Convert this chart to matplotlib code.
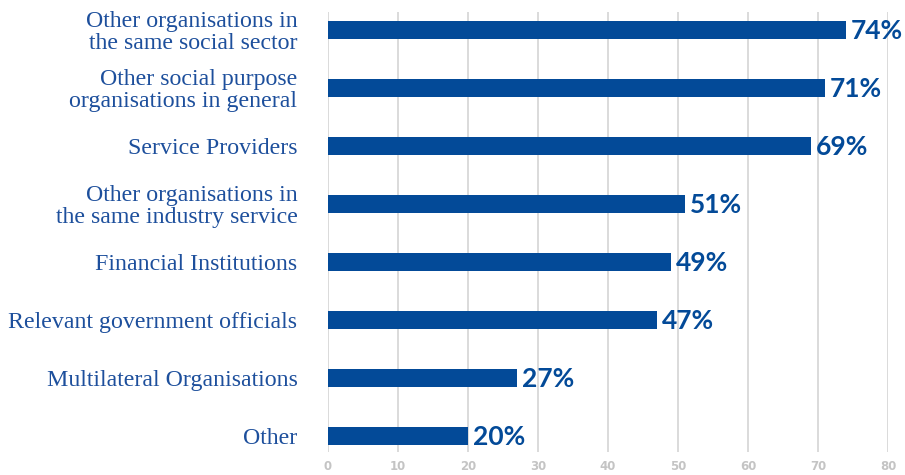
import matplotlib
matplotlib.use("Agg")
import matplotlib.pyplot as plt

categories = [
    "Other organisations in\nthe same social sector",
    "Other social purpose\norganisations in general",
    "Service Providers",
    "Other organisations in\nthe same industry service",
    "Financial Institutions",
    "Relevant government officials",
    "Multilateral Organisations",
    "Other",
]
values = [74, 71, 69, 51, 49, 47, 27, 20]
ticks = [0, 10, 20, 30, 40, 50, 60, 70, 80]

blue = "#034a98"
txt_blue = "#1d4f9c"
grid_grey = "#d4d4d4"

fig = plt.figure(figsize=(9.05, 4.75), dpi=100)
ax = fig.add_axes([328 / 905, 1 - 452 / 475, (888 - 328) / 905, (452 - 12) / 475])

ypos = list(range(len(categories)))
ax.barh(ypos, values, height=0.31, color=blue, zorder=3)
for y, v in zip(ypos, values):
    ax.text(v + 0.7, y + 0.02, f"{v}%", va="center", ha="left", color=blue,
            fontsize=19, fontweight="bold", family="Lato", zorder=4)

ax.set_xlim(0, 80)
ax.set_ylim(7.28, -0.31)
ax.set_xticks(ticks)
ax.set_xticklabels([str(t) for t in ticks], color="#c4c4c4", fontsize=8.5,
                   fontweight="bold")
ax.set_yticks(ypos)
ax.set_yticklabels(categories, color=txt_blue, fontsize=17.2,
                   family="Liberation Serif", linespacing=1.05)
ax.tick_params(axis="y", length=0, pad=22)
ax.tick_params(axis="x", length=0, pad=6)
for t in ticks:
    ax.axvline(t, color=grid_grey, lw=1.2, zorder=1)
for s in ax.spines.values():
    s.set_visible(False)

fig.savefig("out.png", dpi=100)
